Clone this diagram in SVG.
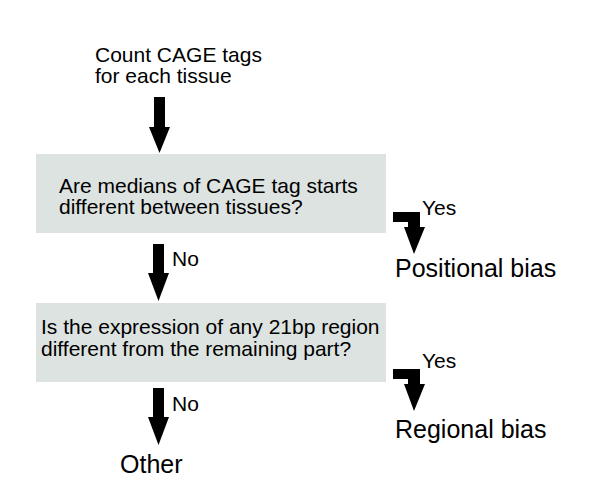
<svg xmlns="http://www.w3.org/2000/svg" width="600" height="503" viewBox="0 0 600 503">
<style>
text{font-family:"Liberation Sans",Arial,sans-serif;fill:#000}
.t{font-size:21px}
.b{font-size:25px}
.box{fill:#dde3e1}
.arr{fill:#000}
</style>
<rect width="600" height="503" fill="#fff"/>
<g id="start">
<text class="t" x="95" y="62">Count CAGE tags</text>
<text class="t" x="95" y="83">for each tissue</text>
</g>
<g id="q1">
<rect class="box" x="36" y="154" width="350" height="79"/>
<text class="t" x="59" y="193">Are medians of CAGE tag starts</text>
<text class="t" x="59" y="214">different between tissues?</text>
</g>
<g id="positional">
<text class="b" x="395" y="277">Positional bias</text>
</g>
<g id="q2">
<rect class="box" x="36" y="303" width="350" height="79"/>
<text class="t" x="41" y="334">Is the expression of any 21bp region</text>
<text class="t" x="41" y="356">different from the remaining part?</text>
</g>
<g id="regional">
<text class="b" x="395" y="438">Regional bias</text>
</g>
<g id="other">
<text class="b" x="120" y="473">Other</text>
</g>
<g id="connectors">
<polygon class="arr" points="154,97 165,97 165,127 170,127 159.5,153 149,127 154,127"/>
<polygon class="arr" points="153,244 164,244 164,273 169,273 158.5,301 148,273 153,273"/>
<text class="t" x="172" y="266">No</text>
<polygon class="arr" points="153,388 164,388 164,417 169,417 158.5,445 148,417 153,417"/>
<text class="t" x="172" y="411">No</text>
<polygon class="arr" points="393,212 420,212 420,227 425,227 414,254 404,227 408,227 408,222 393,222"/>
<text class="t" x="422" y="215">Yes</text>
<polygon class="arr" points="393,369 420,369 420,384 425,384 414,411 404,384 408,384 408,379 393,379"/>
<text class="t" x="422" y="368">Yes</text>
</g>
</svg>
